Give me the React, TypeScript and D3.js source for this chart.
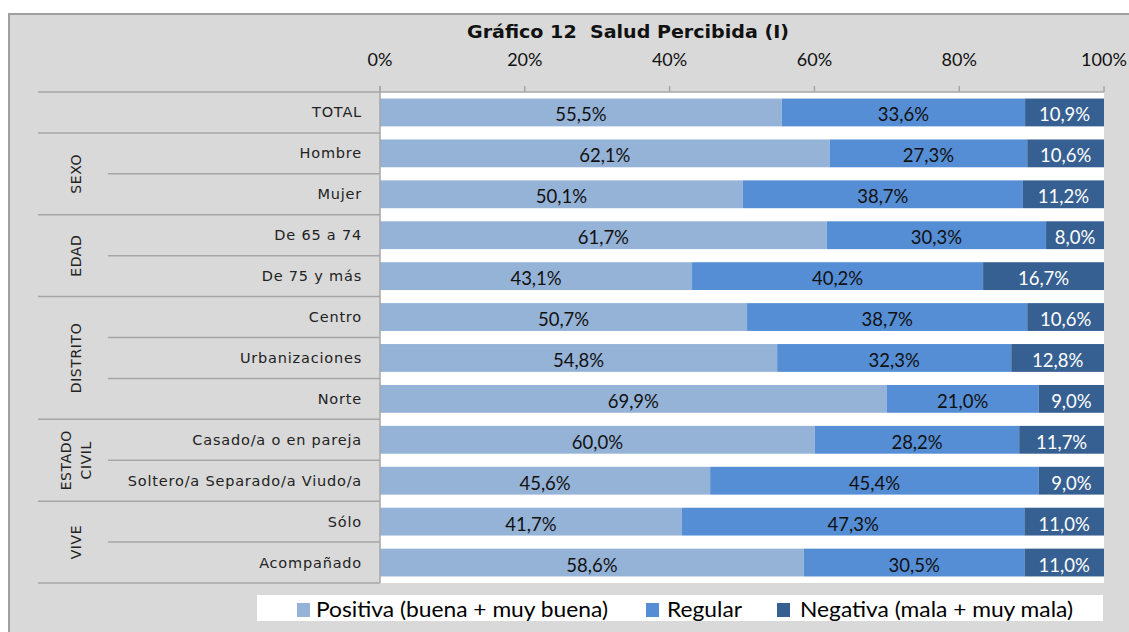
import React from "react";
import * as d3 from "d3";

const title = "Gráfico 12  Salud Percibida (I)";
const categories = [
  "TOTAL",
  "Hombre",
  "Mujer",
  "De 65 a 74",
  "De 75 y más",
  "Centro",
  "Urbanizaciones",
  "Norte",
  "Casado/a o en pareja",
  "Soltero/a Separado/a Viudo/a",
  "Sólo",
  "Acompañado",
];
const positiva = [55.5, 62.1, 50.1, 61.7, 43.1, 50.7, 54.8, 69.9, 60.0, 45.6, 41.7, 58.6];
const regular = [33.6, 27.3, 38.7, 30.3, 40.2, 38.7, 32.3, 21.0, 28.2, 45.4, 47.3, 30.5];
const negativa = [10.9, 10.6, 11.2, 8.0, 16.7, 10.6, 12.8, 9.0, 11.7, 9.0, 11.0, 11.0];
const groupNames = [[""], ["SEXO"], ["EDAD"], ["DISTRITO"], ["ESTADO", "CIVIL"], ["VIVE"]];
const groupSizes = [1, 2, 2, 3, 2, 2];
const seriesNames = ["Positiva (buena + muy buena)", "Regular", "Negativa (mala + muy mala)"];
const xTicks = [0, 20, 40, 60, 80, 100];

const colors = ["#95b3d7", "#558ed5", "#376092"];
const labelColors = ["#111111", "#111111", "#ffffff"];
const lineColor = "#a6a6a6";
const calibri = "Lato, 'Open Sans', sans-serif";
const gothic = "'DejaVu Sans', sans-serif";

const fmt = (v: number) => v.toFixed(1).replace(".", ",") + "%";

export default function App() {
  const W = 1129;
  const H = 632;
  const plotLeft = 380;
  const plotRight = 1104;
  const plotTop = 92;
  const plotBottom = 583;

  const x = d3.scaleLinear().domain([0, 100]).range([plotLeft, plotRight]);
  const y = d3
    .scaleBand<string>()
    .domain(categories)
    .range([plotTop, plotBottom])
    .paddingInner(0.32)
    .paddingOuter(0.16);
  const step = y.step();

  const rows = categories.map((c, i) => {
    const vals = [positiva[i], regular[i], negativa[i]];
    const sum = d3.sum(vals);
    const norm = vals.map((v) => (v / sum) * 100);
    const ends = d3.cumsum(norm);
    return { c, vals, segs: norm.map((n, k) => ({ x0: ends[k] - n, x1: ends[k], v: vals[k], k })) };
  });

  const bounds: number[] = [0];
  groupSizes.forEach((s) => bounds.push(bounds[bounds.length - 1] + s));

  const legendItems = [
    { sx: 297, tx: 316, tl: 292 },
    { sx: 646, tx: 667, tl: 75 },
    { sx: 777, tx: 800, tl: 273 },
  ];

  return (
    <svg
      width={W}
      height={H}
      style={{ position: "absolute", left: 0, top: 0, background: "#ffffff" }}
    >
      <defs>
        <clipPath id="legclip">
          <rect x={257} y={595} width={846} height={26} />
        </clipPath>
      </defs>
      <rect x={9} y={14} width={W + 20} height={H + 20} fill="#d9d9d9" stroke="#a0a0a0" strokeWidth={2} />

      <text
        x={467}
        y={38}
        fontFamily={gothic}
        fontWeight="bold"
        fontSize={17}
        fill="#111"
        textLength={322}
        lengthAdjust="spacingAndGlyphs"
        style={{ whiteSpace: "pre" }}
      >
        {title}
      </text>

      {xTicks.map((t) => (
        <text key={t} x={x(t)} y={66} textAnchor="middle" fontFamily={calibri} fontSize={18} fill="#111">
          {t}%
        </text>
      ))}

      <rect x={plotLeft} y={plotTop} width={plotRight - plotLeft} height={plotBottom - plotTop} fill="#ffffff" />

      {rows.map((r) =>
        r.segs.map((s) => (
          <rect
            key={r.c + s.k}
            x={x(s.x0)}
            y={y(r.c)}
            width={x(s.x1) - x(s.x0)}
            height={y.bandwidth()}
            fill={colors[s.k]}
          />
        ))
      )}
      {rows.map((r) =>
        r.segs.map((s) => (
          <text
            key={"l" + r.c + s.k}
            x={(x(s.x0) + x(s.x1)) / 2}
            y={(y(r.c) as number) + y.bandwidth() / 2 + 9}
            textAnchor="middle"
            fontFamily={calibri}
            fontSize={18.5}
            fill={labelColors[s.k]}
          >
            {fmt(s.v)}
          </text>
        ))
      )}

      <line x1={plotLeft} x2={plotRight} y1={plotTop} y2={plotTop} stroke={lineColor} strokeWidth={1.5} />
      <line x1={plotLeft} x2={plotLeft} y1={86} y2={plotBottom} stroke={lineColor} strokeWidth={1.5} />
      {xTicks.map((t) => (
        <line key={"t" + t} x1={x(t)} x2={x(t)} y1={86} y2={plotTop} stroke={lineColor} strokeWidth={1.5} />
      ))}

      {d3.range(categories.length + 1).map((i) => {
        const yy = plotTop + i * step;
        const isGroup = bounds.includes(i);
        return (
          <line
            key={"s" + i}
            x1={isGroup ? 38 : 108}
            x2={plotLeft}
            y1={yy}
            y2={yy}
            stroke={lineColor}
            strokeWidth={1.5}
          />
        );
      })}

      {categories.map((c) => (
        <text
          key={"c" + c}
          x={362}
          y={(y(c) as number) + y.bandwidth() / 2 + 5}
          textAnchor="end"
          fontFamily={gothic}
          fontSize={14.5}
          letterSpacing={0.8}
          fill="#222"
        >
          {c}
        </text>
      ))}

      {groupNames.map((g, gi) => {
        const cy = plotTop + ((bounds[gi] + bounds[gi + 1]) / 2) * step;
        const n = g.length;
        return g.map((line, li) => {
          const cx = 76 + (li - (n - 1) / 2) * 20;
          return (
            <text
              key={"g" + gi + li}
              transform={`translate(${cx + 5},${cy}) rotate(-90)`}
              textAnchor="middle"
              fontFamily={gothic}
              fontSize={14}
              letterSpacing={0.6}
              fill="#222"
            >
              {line}
            </text>
          );
        });
      })}

      <rect x={257} y={595} width={846} height={26} fill="#ffffff" />
      <g clipPath="url(#legclip)">
        {legendItems.map((it, i) => (
          <g key={"lg" + i}>
            <rect x={it.sx} y={603} width={13} height={14} fill={colors[i]} />
            <text
              x={it.tx}
              y={617}
              fontFamily={calibri}
              fontSize={21}
              fill="#000"
              textLength={it.tl}
              lengthAdjust="spacingAndGlyphs"
            >
              {seriesNames[i]}
            </text>
          </g>
        ))}
      </g>
    </svg>
  );
}
